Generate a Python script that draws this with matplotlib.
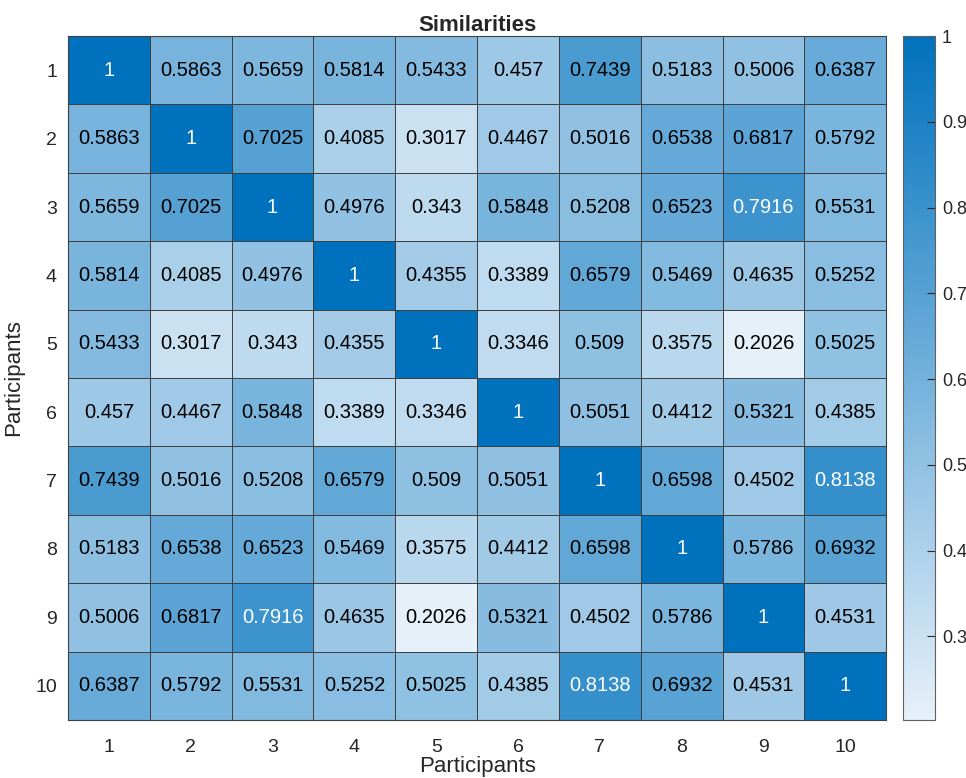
import numpy as np
import matplotlib
matplotlib.use("Agg")
import matplotlib.pyplot as plt
from matplotlib.colors import LinearSegmentedColormap

plt.rcParams['font.family'] = ['Liberation Sans', 'DejaVu Sans']

# participant labels and similarity matrix
labels = [str(i) for i in range(1, 11)]
sim = np.array([
    [1, 0.5863, 0.5659, 0.5814, 0.5433, 0.457, 0.7439, 0.5183, 0.5006, 0.6387],
    [0.5863, 1, 0.7025, 0.4085, 0.3017, 0.4467, 0.5016, 0.6538, 0.6817, 0.5792],
    [0.5659, 0.7025, 1, 0.4976, 0.343, 0.5848, 0.5208, 0.6523, 0.7916, 0.5531],
    [0.5814, 0.4085, 0.4976, 1, 0.4355, 0.3389, 0.6579, 0.5469, 0.4635, 0.5252],
    [0.5433, 0.3017, 0.343, 0.4355, 1, 0.3346, 0.509, 0.3575, 0.2026, 0.5025],
    [0.457, 0.4467, 0.5848, 0.3389, 0.3346, 1, 0.5051, 0.4412, 0.5321, 0.4385],
    [0.7439, 0.5016, 0.5208, 0.6579, 0.509, 0.5051, 1, 0.6598, 0.4502, 0.8138],
    [0.5183, 0.6538, 0.6523, 0.5469, 0.3575, 0.4412, 0.6598, 1, 0.5786, 0.6932],
    [0.5006, 0.6817, 0.7916, 0.4635, 0.2026, 0.5321, 0.4502, 0.5786, 1, 0.4531],
    [0.6387, 0.5792, 0.5531, 0.5252, 0.5025, 0.4385, 0.8138, 0.6932, 0.4531, 1],
])
cbar_ticks = [0.3, 0.4, 0.5, 0.6, 0.7, 0.8, 0.9, 1]

cmap = LinearSegmentedColormap.from_list('sky', ['#e6f0f9', '#0072bd'])
vmin, vmax = sim.min(), sim.max()

fig = plt.figure(figsize=(9.66, 7.78), dpi=100)
ax = fig.add_axes([0.0704, 0.0746, 0.847, 0.879])
cax = fig.add_axes([0.9348, 0.0746, 0.0331, 0.879])

n = len(labels)
mesh = ax.pcolormesh(np.arange(n + 1), np.arange(n + 1), sim, cmap=cmap,
                     vmin=vmin, vmax=vmax, edgecolor='#404040', linewidth=0.7)
ax.set_xlim(0, n)
ax.set_ylim(n, 0)

# cell values
for i in range(n):
    for j in range(n):
        v = sim[i, j]
        col = 'white' if v > 0.77 else 'black'
        ax.text(j + 0.5, i + 0.5, f"{v:.4g}", ha='center', va='center', fontsize=14.5, color=col)

ax.set_xticks(np.arange(n) + 0.5)
ax.set_xticklabels(labels)
ax.set_yticks(np.arange(n) + 0.5)
ax.set_yticklabels(labels)
ax.tick_params(length=0, labelsize=14, colors='#262626')
ax.tick_params(axis='x', pad=14)
ax.tick_params(axis='y', pad=8)
for s in ax.spines.values():
    s.set_color('#404040')
    s.set_linewidth(0.8)

ax.set_title("Similarities", fontsize=16, fontweight='bold', color='#262626', pad=3)
ax.set_xlabel("Participants", fontsize=16, color='#262626', labelpad=0)
ax.set_ylabel("Participants", fontsize=16, color='#262626', labelpad=8)

cb = fig.colorbar(mesh, cax=cax)
cb.set_ticks(cbar_ticks)
cb.set_ticklabels([f"{t:g}" for t in cbar_ticks])
cb.ax.tick_params(direction='in', length=6, labelsize=13, colors='#262626', width=0.8, pad=5)
cb.outline.set_edgecolor('#606060')

fig.savefig("out.png", dpi=100)
